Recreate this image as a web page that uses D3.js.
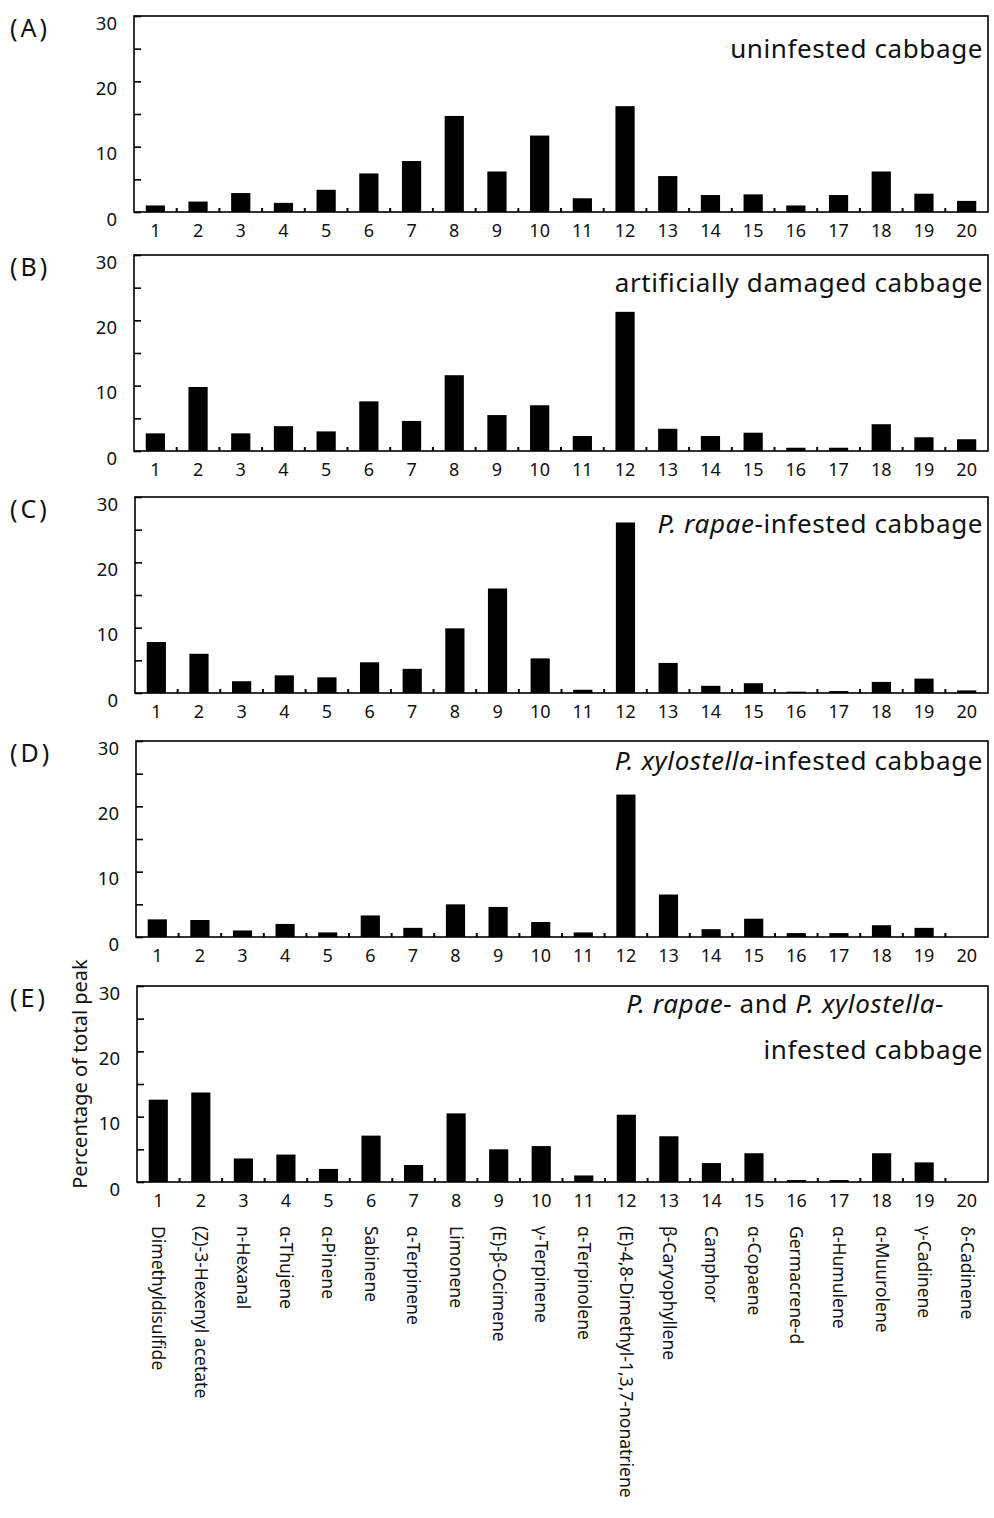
<!DOCTYPE html>
<html>
<head>
<meta charset="utf-8">
<script src="https://cdn.jsdelivr.net/npm/d3@7"></script>
<style>
  body { margin: 0; background: #fff; }
  text { font-family: 'Noto Sans', sans-serif; fill: #111; }
</style>
</head>
<body>
<div id="chart"></div>
<script>
const categories = ['1', '2', '3', '4', '5', '6', '7', '8', '9', '10',
    '11', '12', '13', '14', '15', '16', '17', '18', '19', '20'];
const compounds = ['Dimethyldisulfide', '(Z)-3-Hexenyl acetate', 'n-Hexanal', 'α-Thujene', 'α-Pinene',
    'Sabinene', 'α-Terpinene', 'Limonene', '(E)-β-Ocimene', 'γ-Terpinene', 'α-Terpinolene',
    '(E)-4,8-Dimethyl-1,3,7-nonatriene', 'β-Caryophyllene', 'Camphor', 'α-Copaene',
    'Germacrene-d', 'α-Humulene', 'α-Muurolene', 'γ-Cadinene', 'δ-Cadinene'];

// percentage of total peak, one list per treatment
const uninfested = [1.0, 1.6, 2.9, 1.4, 3.4, 5.9, 7.8, 14.7, 6.2, 11.7, 2.1, 16.2, 5.5, 2.6, 2.7, 1.0, 2.6, 6.2, 2.8, 1.7];
const damaged = [2.7, 9.8, 2.7, 3.8, 3.0, 7.6, 4.6, 11.6, 5.5, 7.0, 2.3, 21.3, 3.4, 2.3, 2.8, 0.5, 0.5, 4.1, 2.1, 1.8];
const rapae = [7.8, 6.0, 1.8, 2.7, 2.4, 4.7, 3.7, 9.9, 16.0, 5.3, 0.5, 26.1, 4.6, 1.1, 1.5, 0.2, 0.3, 1.7, 2.2, 0.4];
const xylostella = [2.7, 2.6, 1.0, 2.0, 0.7, 3.3, 1.4, 5.0, 4.6, 2.3, 0.7, 21.8, 6.5, 1.2, 2.8, 0.6, 0.6, 1.8, 1.4, 0];
const both = [12.6, 13.7, 3.6, 4.2, 2.0, 7.1, 2.6, 10.5, 5.0, 5.5, 1.0, 10.3, 7.0, 2.9, 4.4, 0.3, 0.3, 4.4, 3.0, 0];

const yTicks = [0, 5, 10, 15, 20, 25, 30];
const yLabels = [0, 10, 20, 30];

const panels = [
    {letter: '(A)', values: uninfested, top: 16, left: 134,
        title: [[['uninfested cabbage', false]]], titleDy: [42], titleX: [983]},
    {letter: '(B)', values: damaged, top: 255, left: 134,
        title: [[['artificially damaged cabbage', false]]], titleDy: [37], titleX: [983]},
    {letter: '(C)', values: rapae, top: 497, left: 135,
        title: [[['P. rapae', true], ['-infested cabbage', false]]], titleDy: [36], titleX: [983]},
    {letter: '(D)', values: xylostella, top: 741, left: 136,
        title: [[['P. xylostella', true], ['-infested cabbage', false]]], titleDy: [29], titleX: [983]},
    {letter: '(E)', values: both, top: 986, left: 137,
        title: [[['P. rapae', true], ['- and ', false], ['P. xylostella', true], ['-', false]],
                [['infested cabbage', false]]], titleDy: [27, 73], titleX: [944, 983]}
];

const W = 994, H = 1518;
const right = 988, ph = 196;

const svg = d3.select('#chart')
    .append('svg')
    .attr('width', W)
    .attr('height', H);

panels.forEach((p, pi) => {
    const g = svg.append('g');
    const y = d3.scaleLinear().domain([0, 30]).range([p.top + ph, p.top]);
    const xb = d3.scaleBand().domain(categories).range([p.left, right]);
    const x = d3.scaleBand().domain(categories).range([p.left, right])
        .paddingInner(0.55).paddingOuter(0.275);

    // bars
    g.selectAll('rect.bar')
        .data(p.values)
        .enter()
        .append('rect')
        .attr('class', 'bar')
        .attr('x', (d, i) => x(categories[i]))
        .attr('width', x.bandwidth())
        .attr('y', d => y(d))
        .attr('height', d => y(0) - y(d))
        .attr('fill', '#000');

    // frame
    g.append('rect')
        .attr('x', p.left)
        .attr('y', p.top)
        .attr('width', right - p.left)
        .attr('height', ph)
        .attr('fill', 'none')
        .attr('stroke', '#000')
        .attr('stroke-width', 1.6);

    // y axis, ticks inward
    const ya = g.append('g')
        .attr('transform', `translate(${p.left},0)`)
        .call(d3.axisLeft(y)
            .tickValues(yTicks)
            .tickSize(-7)
            .tickPadding(17)
            .tickFormat(d => yLabels.includes(d) ? d : ''));
    ya.select('.domain').remove();
    ya.selectAll('line').attr('stroke', '#000').attr('stroke-width', 1.6);
    ya.selectAll('text')
        .attr('dy', '0.72em')
        .attr('font-size', 18.5)
        .attr('fill', '#111');

    // x axis numbers
    const xa = g.append('g')
        .attr('transform', `translate(0,${y(0)})`)
        .call(d3.axisBottom(xb).tickSize(0).tickPadding(12));
    xa.select('.domain').remove();
    xa.selectAll('text')
        .attr('font-size', 18)
        .attr('fill', '#111');

    // small ticks at band boundaries
    g.selectAll('line.sep')
        .data(categories.slice(1))
        .enter()
        .append('line')
        .attr('class', 'sep')
        .attr('x1', d => xb(d))
        .attr('x2', d => xb(d))
        .attr('y1', y(0))
        .attr('y2', y(0) - 4)
        .attr('stroke', '#000')
        .attr('stroke-width', 2);

    // panel letter
    g.append('text')
        .attr('x', 10)
        .attr('y', p.top + 21)
        .attr('font-size', 25)
        .attr('letter-spacing', 3)
        .text(p.letter);

    // title lines
    p.title.forEach((line, li) => {
        const t = g.append('text')
            .attr('x', p.titleX[li])
            .attr('y', p.top + p.titleDy[li])
            .attr('text-anchor', 'end')
            .attr('font-size', 26)
            .attr('letter-spacing', 0.6);
        line.forEach(seg => {
            t.append('tspan')
                .attr('font-style', seg[1] ? 'italic' : 'normal')
                .text(seg[0]);
        });
    });

    // compound names under the last panel
    if (pi === panels.length - 1) {
        g.selectAll('text.cmp')
            .data(compounds)
            .enter()
            .append('text')
            .attr('class', 'cmp')
            .attr('transform', (d, i) => `translate(${xb(categories[i]) + xb.bandwidth() / 2},${y(0) + 44}) rotate(90)`)
            .attr('dy', '0.35em')
            .attr('font-size', 17.5)
            .text(d => d);

        g.append('text')
            .attr('transform', `translate(80,${p.top + 88}) rotate(-90)`)
            .attr('text-anchor', 'middle')
            .attr('dy', '0.35em')
            .attr('font-size', 20)
            .text('Percentage of total peak');
    }
});
</script>
</body>
</html>
